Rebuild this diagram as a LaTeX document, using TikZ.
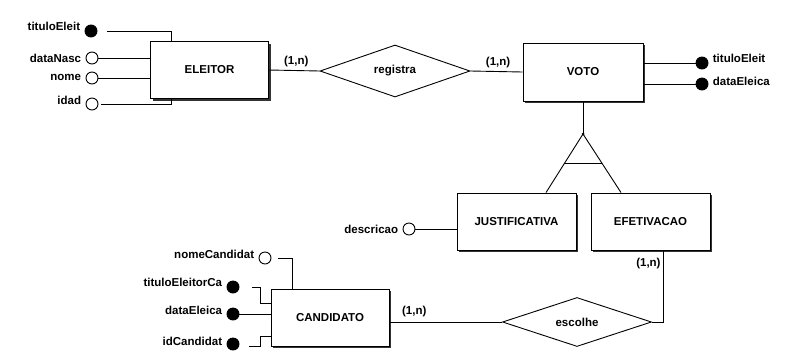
\documentclass[tikz,border=0pt]{standalone}
\usepackage{fontspec}
\setmainfont{Liberation Sans}
\usetikzlibrary{shapes.geometric,shadows,calc}

\tikzset{
entidade/.style={draw,fill=white,minimum width=118pt,minimum height=57pt,
  drop shadow={shadow xshift=2pt,shadow yshift=-2pt,fill=black!80,opacity=1}},
relac/.style={draw,diamond,aspect=2.9,minimum width=150pt,minimum height=52pt,inner sep=0pt},
atrib/.style={draw,circle,minimum size=12pt,inner sep=0pt},
atribid/.style={atrib,fill=black},
rot/.style={inner sep=1pt},
card/.style={inner sep=2pt}
}

\begin{document}
\begin{tikzpicture}[x=1pt,y=-1pt,line width=0.9pt,font=\bfseries\fontsize{11.5}{13}\selectfont,label distance=3pt]
\useasboundingbox (0,0) rectangle (794,357);
%entidades e relacionamentos
\node[entidade] (eleitor) at (209.5,70) {ELEITOR};
\node[relac] (registra) at (395,71) {registra};
\node[entidade,minimum width=120pt,minimum height=58pt] (voto) at (583,72) {VOTO};
\node[entidade,minimum width=119pt] (justif) at (516.5,221.5) {JUSTIFICATIVA};
\node[entidade,minimum width=119pt] (efetiv) at (650.5,221.5) {EFETIVACAO};
\node[entidade] (candidato) at (330,317.5) {CANDIDATO};
\node[relac,minimum width=149pt,minimum height=49pt] (escolhe) at (577,322) {escolhe};

%atributos de ELEITOR
\node[atribid,label={[rot,yshift=4.5pt]left:tituloEleit}] (e1) at (91,31) {};
\node[atrib,label={[rot]left:dataNasc}] (e2) at (92,58) {};
\node[atrib,label={[rot,yshift=1pt]left:nome}] (e3) at (92,78) {};
\node[atrib,label={[rot,yshift=4pt]left:idad}] (e4) at (92,104) {};
\draw ([xshift=9.5pt]e1.east) -| ([xshift=-38.5pt]eleitor.north);
\draw (e2.east) -- (e2.east -| eleitor.west);
\draw (e3.east) -- (e3.east -| eleitor.west);
\draw ([xshift=3pt]e4.east) -| ([xshift=-38.5pt]eleitor.south);

%atributos de VOTO
\node[atribid,label={[rot,yshift=5pt]right:tituloEleit}] (v1) at (702,63) {};
\node[atribid,label={[rot,yshift=3pt]right:dataEleica}] (v2) at (702,84) {};
\draw ([yshift=9pt]voto.east) -- (v1.west);
\draw ([yshift=-12pt]voto.east) -- (v2.west);

%atributo de JUSTIFICATIVA
\node[atrib,label={[rot]left:descricao}] (j1) at (409,229) {};
\draw (j1.east) -- (j1.east -| justif.west);

%atributos de CANDIDATO
\node[atrib,label={[rot,yshift=4pt]left:nomeCandidat}] (c1) at (265,258) {};
\node[atribid,label={[rot,yshift=5pt]left:tituloEleitorCa}] (c2) at (233,287) {};
\node[atribid,label={[rot,yshift=4pt]left:dataEleica}] (c3) at (233,314) {};
\node[atribid,label={[rot,yshift=3pt]left:idCandidat}] (c4) at (233,344) {};
\draw ([xshift=7pt]c1.east) -| ([xshift=-38pt]candidato.north);
\draw ([xshift=13pt]c2.east) -- ++(8,0) |- ([yshift=14.5pt]candidato.west);
\draw (c3.east) -- (c3.east -| candidato.west);
\draw ([xshift=10pt,yshift=-2pt]c4.east) -- ++(11,0) |- ([yshift=-19pt]candidato.west);

%especializacao de VOTO
\coordinate (topo) at (583,134);
\coordinate (gj) at ([xshift=29.5pt]justif.north);
\coordinate (ge) at ([xshift=-29.5pt]efetiv.north);
\draw (voto.south) -- (topo);
\fill (topo) circle (1.5pt);
\draw (gj) -- (topo) -- (ge);
\draw ($(topo)!0.51!(gj)$) -- ($(topo)!0.51!(ge)$);

%ligacoes dos relacionamentos
\draw (eleitor.east) -- node[card,above,pos=0.54,yshift=1.5pt]{(1,n)} (registra.west);
\draw (registra.east) -- node[card,above,pos=0.53,yshift=1.5pt]{(1,n)} (voto.west);
\draw (candidato.east |- escolhe.west) -- node[card,above,pos=0.22,yshift=3pt]{(1,n)} (escolhe.west);
\draw ([xshift=12.5pt]efetiv.south) node[card,below left,yshift=-5pt]{(1,n)} |- (escolhe.east);
\end{tikzpicture}
\end{document}
